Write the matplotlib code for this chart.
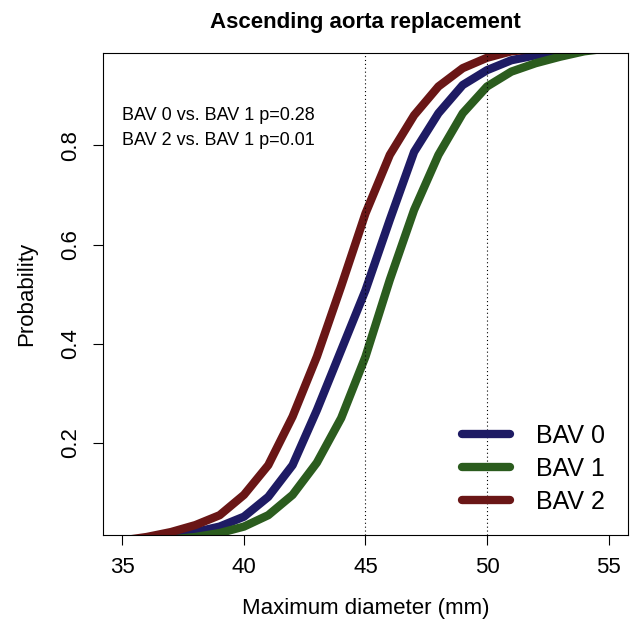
import matplotlib
matplotlib.use("Agg")
import matplotlib.pyplot as plt

plt.rcParams['font.family'] = ['Liberation Sans', 'DejaVu Sans']

# maximum diameter (mm) and cumulative probability per group
diam = [35, 36, 37, 38, 39, 40, 41, 42, 43, 44, 45,
        46, 47, 48, 49, 50, 51, 52, 53, 54, 55]
bav0 = [0.002, 0.004, 0.008, 0.02, 0.031, 0.051, 0.091, 0.155, 0.266, 0.387, 0.508,
        0.65, 0.787, 0.865, 0.922, 0.952, 0.972, 0.982, 0.99, 0.995, 0.998]
bav1 = [0.001, 0.002, 0.005, 0.01, 0.018, 0.031, 0.054, 0.095, 0.16, 0.25, 0.374,
        0.529, 0.67, 0.781, 0.865, 0.919, 0.949, 0.966, 0.979, 0.99, 0.996]
bav2 = [0.003, 0.01, 0.02, 0.034, 0.054, 0.095, 0.155, 0.253, 0.374, 0.516, 0.663,
        0.781, 0.861, 0.919, 0.956, 0.977, 0.99, 0.995, 0.998, 0.999, 1.0]

labels = ["BAV 0", "BAV 1", "BAV 2"]
colors = ["#1e1b64", "#2b5c1e", "#6a1616"]
pvals = ["BAV 0 vs. BAV 1 p=0.28", "BAV 2 vs. BAV 1 p=0.01"]
cutoffs = [45, 50]

fig = plt.figure(figsize=(6.32, 6.24), dpi=100)
ax = fig.add_axes([103/632, 89/624, 525/632, 481.7/624])

for y, lab, col in zip([bav0, bav1, bav2], labels, colors):
    ax.plot(diam, y, color=col, lw=6, label=lab,
            solid_capstyle='round', solid_joinstyle='round')

for c in cutoffs:
    ax.axvline(c, color='black', lw=0.8, linestyle=(0, (1, 2.5)))

ax.set_xlim(34.2, 55.8)
ax.set_ylim(0.014, 0.986)
ax.set_xticks([35, 40, 45, 50, 55])
ax.set_yticks([0.2, 0.4, 0.6, 0.8])
ax.set_yticklabels(["0.2", "0.4", "0.6", "0.8"], rotation=90, va='center')
ax.tick_params(direction='out', length=7, width=0.8, labelsize=16, pad=9)
for s in ax.spines.values():
    s.set_linewidth(0.8)

ax.set_xlabel("Maximum diameter (mm)", fontsize=16, labelpad=14)
ax.set_ylabel("Probability", fontsize=16, labelpad=16)
ax.set_title("Ascending aorta replacement", fontsize=16, fontweight='bold', pad=18)

ax.text(35, 0.861, pvals[0], fontsize=13, va='center')
ax.text(35, 0.811, pvals[1], fontsize=13, va='center')

ax.legend(loc='center left', bbox_to_anchor=(0.684, 0.137), frameon=False,
          fontsize=18, handlelength=1.9, handletextpad=1.05, labelspacing=0.36,
          borderpad=0, borderaxespad=0)

fig.savefig("out.png", dpi=100)
